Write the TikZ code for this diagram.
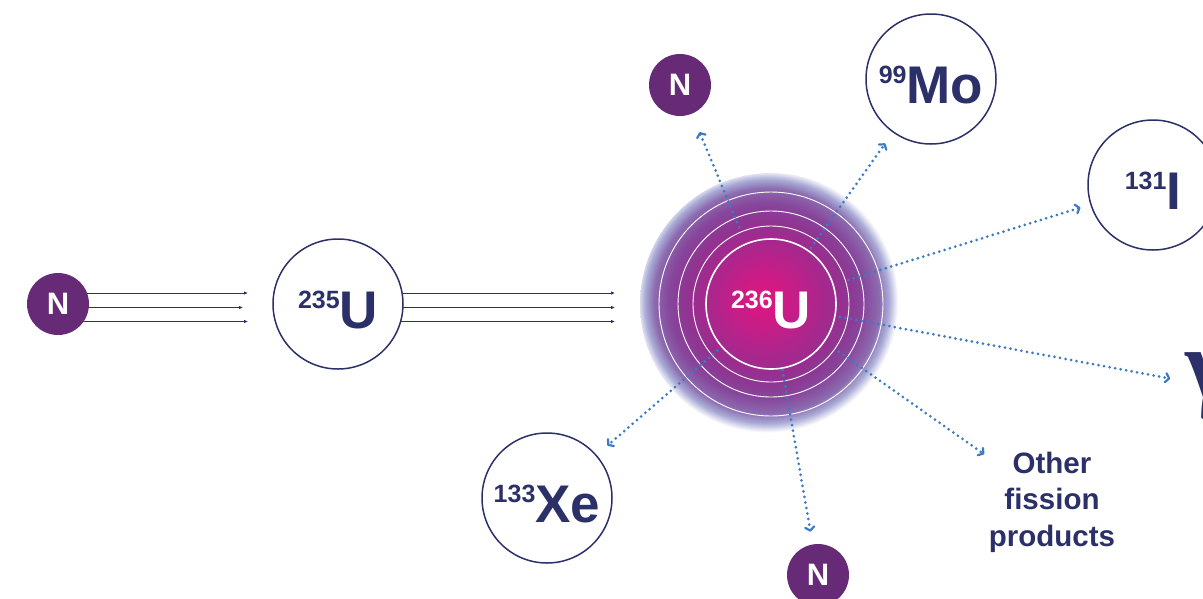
\documentclass[tikz,border=0pt]{standalone}
\usepackage{fontspec}
\setmainfont{Liberation Sans}
\newfontfamily\gammafont{Liberation Serif}
\usetikzlibrary{arrows.meta,calc}
\definecolor{navy}{HTML}{2B3168}
\definecolor{npurple}{HTML}{662A77}
\definecolor{dotblue}{HTML}{3B7BC4}
\definecolor{ga}{HTML}{E2147F}
\definecolor{gb}{HTML}{C41E88}
\definecolor{gc}{HTML}{A02A8E}
\definecolor{gd}{HTML}{8F3592}
\definecolor{ge}{HTML}{87459B}
\definecolor{gf}{HTML}{8C6BAF}
\definecolor{gg}{HTML}{A9ABD6}
\pgfdeclareradialshading{glowshade}{\pgfpoint{-1.5bp}{1bp}}{color(0bp)=(ga); color(6bp)=(gb); color(12.5bp)=(gc); color(15.5bp)=(gd); color(18.5bp)=(ge); color(21.5bp)=(gf); color(23.3bp)=(gg); color(25bp)=(white); color(50bp)=(white)}
\pgfdeclarelayer{bg}
\pgfsetlayers{bg,main}
\newcommand\nucl[2]{\raisebox{20pt}{\fontsize{25}{25}\selectfont #1}{\fontsize{53}{53}\selectfont #2}}
\begin{document}
\begin{tikzpicture}[x=1pt,y=-1pt,
  nucleus/.style={circle, draw=navy, line width=1.5pt, fill=white, minimum size=130pt, inner sep=0pt, text=navy, font=\bfseries, text height=48pt, text depth=0pt},
  neutron/.style={circle, fill=npurple, minimum size=62pt, inner sep=0pt, text=white, font=\bfseries\fontsize{31}{31}\selectfont},
  beam/.style={navy, line width=0.8pt, -{Latex[length=4pt,width=3.5pt]}},
  emit/.style={dotblue, line width=3pt, dash pattern=on 0pt off 5.6pt, line cap=round, -{Straight Barb[length=3.5pt,width=9pt,line width=2.2pt,round]}},
  ring/.style={white, line width=0.9pt}]
\useasboundingbox (0,0) rectangle (1203,598);
\clip (0,0) rectangle (1203,598);
\coordinate (c236) at (771,304);
\shade[shading=glowshade] (c236) circle[radius=131pt];
\draw[ring] (c236) circle[radius=78pt];
\draw[ring] (c236) circle[radius=93pt];
\draw[ring] (c236) circle[radius=112pt];
\node[nucleus, draw=white, fill=none, text=white, line width=1.6pt] (u236) at (c236) {\nucl{236}{U}};
\node[neutron] (nL) at (58,304) {N};
\node[nucleus] (u235) at (338,304) {\nucl{235}{U}};
\node[neutron] (nT) at (680,85) {N};
\node[neutron] (nB) at (818,575) {N};
\node[nucleus] (mo) at (931,79) {\nucl{99}{Mo}};
\node[nucleus] (iod) at (1153,185) {\nucl{131}{I}};
\node[nucleus] (xe) at (547,498) {\nucl{133}{Xe}};
\node[text=navy, font=\bfseries\fontsize{29.5}{36.5}\selectfont, align=center] (oth) at (1052,502) {Other\\fission\\products};
\node[text=navy, inner sep=0pt, anchor=base west, font=\gammafont\bfseries\fontsize{100}{100}\selectfont] (gam) at (1185,398) {γ};
\begin{pgfonlayer}{bg}
\foreach \dy/\s in {11/90, -3.5/95, -17.5/90} {
  \draw[beam, shorten >=\s pt] ([yshift=\dy pt]nL.center) -- ([yshift=\dy pt]u235.center);
  \draw[beam, shorten >=156pt] ([yshift=\dy pt]u235.center) -- ([yshift=\dy pt]u236.center);
}
\end{pgfonlayer}
\draw[emit, shorten <=83pt, shorten >=51pt] (u236.center) -- (nT.center);
\draw[emit, shorten <=69pt, shorten >=79pt] (u236.center) -- (mo.center);
\draw[emit, shorten <=81pt, shorten >=76pt] (u236.center) -- (iod.center);
\draw[emit, shorten <=70pt, shorten >=39pt] (u236.center) -- (gam.center);
\draw[emit, shorten <=83pt, shorten >=83pt] (u236.center) -- (oth.center);
\draw[emit, shorten <=67pt, shorten >=44pt] (u236.center) -- (nB.center);
\draw[emit, shorten <=71pt, shorten >=80pt] (u236.center) -- (xe.center);
\end{tikzpicture}
\end{document}
